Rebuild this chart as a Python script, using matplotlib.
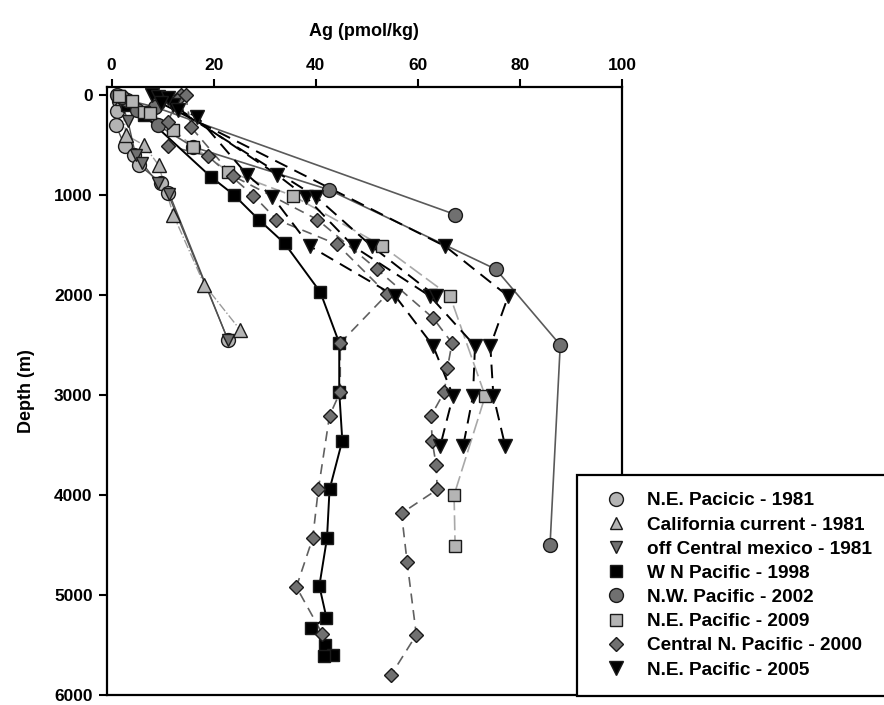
import matplotlib
matplotlib.use("Agg")
import matplotlib.pyplot as plt
from matplotlib.lines import Line2D
import numpy as np

plt.rcParams['font.family'] = ['Liberation Sans', 'DejaVu Sans']
plt.rcParams['font.weight'] = 'bold'

# dissolved Ag (pmol/kg) vs depth (m) for each cruise / station
ne1981_ag = [1.2, 1.5, 1.0, 0.8, 2.6, 4.4, 5.4, 9.6, 11.0, 22.8]
ne1981_z = [10, 60, 160, 300, 510, 600, 700, 875, 980, 2450]

cc1981_ag = [2.0, 2.8, 6.3, 9.2, 12.1, 18.2, 25.2]
cc1981_z = [30, 400, 500, 700, 1200, 1900, 2350]

ocm1981_ag = [1.6, 2.2, 3.2, 4.7, 6.0, 9.0, 11.3, 22.8]
ocm1981_z = [20, 110, 260, 600, 680, 880, 985, 2450]

wnp1998_ag = [1.5, 3.0, 6.3, 19.4, 23.9, 28.8, 33.9, 40.9, 44.6, 44.6, 45.2,
              42.7, 42.2, 40.7, 42.1, 39.1, 41.9, 43.4, 41.7]
wnp1998_z = [10, 100, 200, 816, 996, 1245, 1484, 1972, 2480, 2968, 3456,
             3945, 4432, 4910, 5229, 5329, 5498, 5598, 5608]

# two N.W. Pacific casts
nwp2002a_ag = [1.0, 3.0, 8.5, 67.3]
nwp2002a_z = [0, 50, 120, 1195]
nwp2002b_ag = [2.0, 5.0, 9.0, 16.0, 42.5, 75.3, 87.9, 85.9]
nwp2002b_z = [20, 150, 300, 520, 946, 1743, 2500, 4502]

nep2009_ag = [1.5, 4.0, 6.3, 7.6, 12.1, 16.0, 22.9, 35.6, 53.0, 66.3, 73.2, 67.1, 67.3]
nep2009_z = [10, 60, 170, 175, 350, 518, 765, 1010, 1510, 2010, 3010, 4000, 4510]

# two Central N. Pacific stations
cnp2000a_ag = [13.5, 12.9, 11.0, 11.0, 18.8, 27.8, 32.3, 44.2, 54.0, 44.8, 44.8,
               42.7, 40.5, 39.4, 36.2, 41.3]
cnp2000a_z = [0, 50, 270, 508, 608, 1006, 1245, 1494, 1992, 2480, 2968,
              3207, 3945, 4432, 4920, 5389]
cnp2000b_ag = [14.5, 15.5, 23.7, 40.3, 52.0, 63.0, 66.7, 65.8, 65.2, 62.6, 62.8,
               63.6, 63.8, 56.8, 57.9, 59.7, 54.8]
cnp2000b_z = [0, 318, 807, 1245, 1743, 2231, 2480, 2729, 2968, 3207, 3456,
              3705, 3945, 4183, 4671, 5398, 5797]

# four N.E. Pacific 2005 stations
nep2005a_ag = [8.0, 10.0, 16.8, 26.6, 31.5, 38.9, 55.6, 63.0, 66.9, 64.4]
nep2005a_z = [0, 60, 219, 800, 1016, 1514, 2012, 2510, 3008, 3506]
nep2005b_ag = [9.0, 12.0, 32.5, 38.0, 47.4, 62.4, 71.2, 70.8, 68.9]
nep2005b_z = [20, 100, 800, 1016, 1514, 2012, 2510, 3008, 3506]
nep2005c_ag = [11.0, 13.0, 40.0, 51.0, 63.5]
nep2005c_z = [30, 150, 1016, 1514, 2012]
nep2005d_ag = [9.6, 65.4, 77.7, 74.2, 74.8, 77.1]
nep2005d_z = [80, 1514, 2012, 2510, 3008, 3506]

legend_labels = ['N.E. Pacicic - 1981', 'California current - 1981',
                 'off Central mexico - 1981', 'W N Pacific - 1998',
                 'N.W. Pacific - 2002', 'N.E. Pacific - 2009',
                 'Central N. Pacific - 2000', 'N.E. Pacific - 2005']

light = '#b4b4b4'
mid = '#707070'
edge = '#1a1a1a'

fig = plt.figure(figsize=(8.84, 7.05), dpi=100)
ax = fig.add_axes([106.5 / 884, 1 - 695 / 705, (622 - 106.5) / 884, (695 - 87) / 705])

# lines first, markers on top
ax.plot(cc1981_ag, cc1981_z, color='#9a9a9a', lw=1.0, ls='-.', zorder=2)
ax.plot(ne1981_ag, ne1981_z, color='#505050', lw=1.0, zorder=2)
ax.plot(ocm1981_ag, ocm1981_z, color='#505050', lw=1.0, zorder=2)
ax.plot(nep2009_ag, nep2009_z, color='#a8a8a8', lw=1.2, ls=(0, (9, 3)), zorder=2)
for a, z in [(nwp2002a_ag, nwp2002a_z), (nwp2002b_ag, nwp2002b_z)]:
    ax.plot(a, z, color='#5a5a5a', lw=1.2, zorder=2)
for a, z in [(cnp2000a_ag, cnp2000a_z), (cnp2000b_ag, cnp2000b_z)]:
    ax.plot(a, z, color='#606060', lw=1.2, ls=(0, (6, 4)), zorder=2)
ax.plot(wnp1998_ag, wnp1998_z, color='black', lw=1.4, zorder=2)
for a, z in [(nep2005a_ag, nep2005a_z), (nep2005b_ag, nep2005b_z),
             (nep2005c_ag, nep2005c_z), (nep2005d_ag, nep2005d_z)]:
    ax.plot(a, z, color='black', lw=1.4, ls=(0, (7, 4)), zorder=2)

mk = dict(ls='none', mec=edge, mew=1.0, zorder=3)
ax.plot(ne1981_ag, ne1981_z, marker='o', ms=10, mfc=light, **mk)
ax.plot(cc1981_ag, cc1981_z, marker='^', ms=10, mfc=light, **mk)
ax.plot(ocm1981_ag, ocm1981_z, marker='v', ms=9, mfc=mid, **mk)
ax.plot(wnp1998_ag, wnp1998_z, marker='s', ms=8, mfc='black', **mk)
for a, z in [(nwp2002a_ag, nwp2002a_z), (nwp2002b_ag, nwp2002b_z)]:
    ax.plot(a, z, marker='o', ms=10, mfc=mid, **mk)
ax.plot(nep2009_ag, nep2009_z, marker='s', ms=9, mfc=light, **mk)
for a, z in [(cnp2000a_ag, cnp2000a_z), (cnp2000b_ag, cnp2000b_z)]:
    ax.plot(a, z, marker='D', ms=7, mfc=mid, **mk)
for a, z in [(nep2005a_ag, nep2005a_z), (nep2005b_ag, nep2005b_z),
             (nep2005c_ag, nep2005c_z), (nep2005d_ag, nep2005d_z)]:
    ax.plot(a, z, marker='v', ms=10, mfc='black', **mk)

ax.set_xlim(-1, 100)
ax.set_ylim(6000, -80)
ax.set_xticks(np.arange(0, 101, 20))
ax.set_yticks(np.arange(0, 6001, 1000))
ax.xaxis.tick_top()
ax.xaxis.set_label_position('top')
ax.tick_params(direction='out', length=6, width=1.5, labelsize=12.5, pad=4)
for s in ax.spines.values():
    s.set_linewidth(1.6)
ax.set_xlabel('Ag (pmol/kg)', fontsize=13, fontweight='bold', labelpad=16)
ax.set_ylabel('Depth (m)', fontsize=13, fontweight='bold', labelpad=14)

handles = [
    Line2D([], [], ls='none', marker='o', ms=10, mfc=light, mec=edge),
    Line2D([], [], ls='none', marker='^', ms=9, mfc=light, mec=edge),
    Line2D([], [], ls='none', marker='v', ms=9, mfc=mid, mec=edge),
    Line2D([], [], ls='none', marker='s', ms=8, mfc='black', mec=edge),
    Line2D([], [], ls='none', marker='o', ms=10, mfc=mid, mec=edge),
    Line2D([], [], ls='none', marker='s', ms=8, mfc=light, mec=edge),
    Line2D([], [], ls='none', marker='D', ms=7, mfc=mid, mec=edge),
    Line2D([], [], ls='none', marker='v', ms=10, mfc='black', mec=edge),
]
leg = fig.legend(handles, legend_labels, loc='upper left',
                 bbox_to_anchor=(577 / 884, 1 - 475 / 705),
                 bbox_transform=fig.transFigure,
                 prop={'size': 13.7, 'weight': 'bold'},
                 fancybox=False, edgecolor='black', framealpha=1,
                 borderpad=0.9, handlelength=2.3, handletextpad=0.5,
                 labelspacing=0.36, borderaxespad=0)
leg.get_frame().set_linewidth(1.6)

fig.savefig('out.png', dpi=100)
